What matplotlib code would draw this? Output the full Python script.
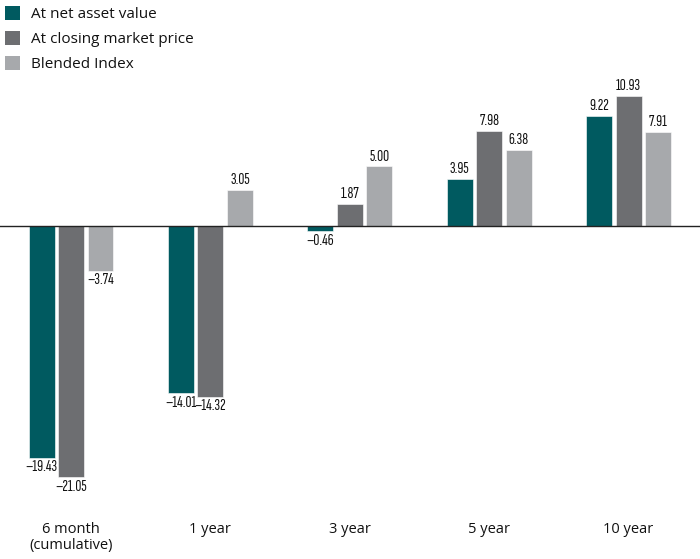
import matplotlib
matplotlib.use("Agg")
import matplotlib.pyplot as plt
from matplotlib.patches import Patch
import numpy as np

categories = ["6 month\n(cumulative)", "1 year", "3 year", "5 year", "10 year"]
series_names = ["At net asset value", "At closing market price", "Blended Index"]
nav = [-19.43, -14.01, -0.46, 3.95, 9.22]
market = [-21.05, -14.32, 1.87, 7.98, 10.93]
blended = [-3.74, 3.05, 5.00, 6.38, 7.91]
colors = ["#005a60", "#6d6e71", "#a7a9ac"]

W, H = 700, 559
fig = plt.figure(figsize=(W / 100, H / 100), dpi=100)

top_px, bot_px = 80, 500
ax = fig.add_axes([0, (H - bot_px) / H, 1, (bot_px - top_px) / H])
zero_px = 226
ppu = 11.92
ax.set_ylim(-(bot_px - zero_px) / ppu, (zero_px - top_px) / ppu)
c0, step = 71.0, 139.4
ax.set_xlim(-c0 / step, (W - c0) / step)

x = np.arange(len(categories))
width = 26 / step
offset = 29.5 / step
label_font = ["Sofia Sans Extra Condensed", "DejaVu Sans"]
main_font = ["Open Sans", "DejaVu Sans"]

for j, (vals, col) in enumerate(zip([nav, market, blended], colors)):
    xs = x + (j - 1) * offset
    ax.bar(xs, vals, width=width, color=col, edgecolor="white", linewidth=0.4, zorder=2)
    for xi, v in zip(xs, vals):
        txt = ("\u2013%.2f" % abs(v)) if v < 0 else "%.2f" % v
        if v >= 0:
            ax.annotate(txt, (xi, v), xytext=(0, 2), textcoords="offset points",
                        ha="center", va="bottom", fontsize=12, family=label_font,
                        fontweight="medium", color="#111111")
        else:
            ax.annotate(txt, (xi, v), xytext=(0, -2), textcoords="offset points",
                        ha="center", va="top", fontsize=12, family=label_font,
                        fontweight="medium", color="#111111")

ax.axhline(0, color="#222222", lw=1.0, zorder=3)

ax.set_xticks(x)
ax.set_xticklabels(categories, fontsize=10.5, family=main_font, linespacing=1.05,
                   color="#111111")
ax.tick_params(axis="x", length=0, pad=16)
ax.set_yticks([])
for s in ax.spines.values():
    s.set_visible(False)

handles = [Patch(facecolor=c, edgecolor="none") for c in colors]
fig.legend(handles, series_names, loc="upper left", bbox_to_anchor=(-0.012, 1.013),
           frameon=False, handlelength=0.95, handleheight=0.95,
           handletextpad=0.75, labelspacing=0.6,
           prop={"family": main_font, "size": 11}, labelcolor="#111111")

fig.savefig("out.png", dpi=100)
